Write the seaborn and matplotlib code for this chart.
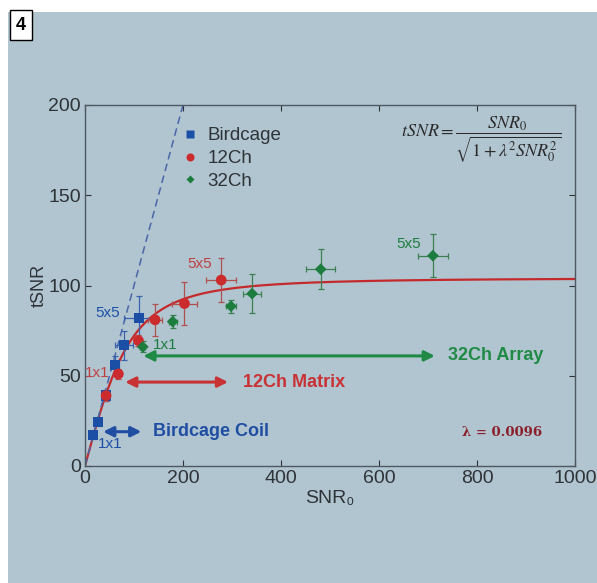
import numpy as np
import pandas as pd
import matplotlib
matplotlib.use('Agg')
import matplotlib.pyplot as plt
from matplotlib.patches import Rectangle
import seaborn as sns

# data
birdcage_snr0 = [17, 26, 43, 61, 80, 110]
birdcage_tsnr = [17, 24.5, 39, 56, 67, 82]
birdcage_xerr = [2, 3, 4, 8, 18, 30]
birdcage_yerr = [2, 2, 3, 5, 8, 12]

ch12_snr0 = [43, 68, 109, 143, 203, 278]
ch12_tsnr = [39, 51, 69.5, 81, 90, 103]
ch12_xerr = [4, 5, 7, 14, 26, 31]
ch12_yerr = [3, 3, 3, 9, 12, 12]

ch32_snr0 = [118, 179, 298, 341, 481, 710]
ch32_tsnr = [66, 80, 88.5, 95.5, 109, 116.5]
ch32_xerr = [5, 8, 10, 18, 30, 30]
ch32_yerr = [3, 3.5, 3.5, 11, 11, 12]

lam = 0.0096
x_ticks = [0, 200, 400, 600, 800, 1000]
y_ticks = [0, 50, 100, 150, 200]

df = pd.DataFrame({
    'SNR0': birdcage_snr0 + ch12_snr0 + ch32_snr0,
    'tSNR': birdcage_tsnr + ch12_tsnr + ch32_tsnr,
    'coil': ['Birdcage'] * 6 + ['12Ch'] * 6 + ['32Ch'] * 6,
})

blue = '#1b4fa6'
red = '#cc2b2e'
green = '#1d7d3e'
bg = '#b1c5d0'
ink = '#2e3338'

sns.set_style('ticks')
plt.rcParams['font.family'] = ['Liberation Sans', 'DejaVu Sans']
plt.rcParams['mathtext.fontset'] = 'stix'

fig = plt.figure(figsize=(5.97, 5.83), dpi=100)
fig.patch.set_facecolor('white')
fig.patches.append(Rectangle((8 / 597, 0), 1, (583 - 12) / 583, transform=fig.transFigure,
                             facecolor=bg, edgecolor='none', zorder=-10))

# panel number box
fig.text(21 / 597, 1 - 25 / 583, '4', ha='center', va='center', fontsize=13, fontweight='bold',
         color='black', bbox=dict(boxstyle='square,pad=0.35', facecolor='white', edgecolor='black', lw=1))

ax = fig.add_axes([85 / 597, (583 - 466) / 583, 490 / 597, 361 / 583])
ax.set_facecolor(bg)

# model curve and identity line
xs = np.linspace(0, 1000, 400)
ax.plot(xs, xs / np.sqrt(1 + lam ** 2 * xs ** 2), color='#c42a2c', lw=1.6, zorder=2)
ax.plot([0, 200], [0, 200], color='#4a66a8', lw=1.1, ls=(0, (5, 3)), zorder=2)

# error bars
for xv, yv, xe, ye, c in [(birdcage_snr0, birdcage_tsnr, birdcage_xerr, birdcage_yerr, '#3a62b0'),
                          (ch12_snr0, ch12_tsnr, ch12_xerr, ch12_yerr, '#b05050'),
                          (ch32_snr0, ch32_tsnr, ch32_xerr, ch32_yerr, '#3a8050')]:
    ax.errorbar(xv, yv, xerr=xe, yerr=ye, fmt='none', ecolor=c, elinewidth=0.9,
                capsize=2.5, capthick=0.9, zorder=3)

sns.scatterplot(data=df, x='SNR0', y='tSNR', hue='coil', style='coil', size='coil',
                palette={'Birdcage': blue, '12Ch': red, '32Ch': green},
                markers={'Birdcage': 's', '12Ch': 'o', '32Ch': 'D'},
                sizes={'Birdcage': 55, '12Ch': 60, '32Ch': 36},
                edgecolor='none', ax=ax, zorder=4)

ax.set_xlim(0, 1000)
ax.set_ylim(0, 200)
ax.set_xticks(x_ticks)
ax.set_yticks(y_ticks)
ax.tick_params(direction='in', length=4, width=0.8, top=True, right=True,
               labelsize=14, colors=ink, labelcolor=ink, pad=3)
for sp in ax.spines.values():
    sp.set_color('#4d5860')
    sp.set_linewidth(1.0)
ax.set_xlabel('SNR\u2080', fontsize=14, color=ink, labelpad=2)
ax.set_ylabel('tSNR', fontsize=13, color=ink, labelpad=0)

leg = ax.legend(loc='upper left', bbox_to_anchor=(0.156, 0.985), frameon=False, fontsize=13.5,
                handletextpad=0.35, handlelength=1.2, labelspacing=0.3, markerscale=0.75)
for t in leg.get_texts():
    t.set_color(ink)

# point labels
lab_kw = dict(fontsize=11, ha='center', va='center', zorder=5)
ax.text(51, 12, '1x1', color=blue, **lab_kw)
ax.text(46, 85, '5x5', color=blue, **lab_kw)
ax.text(25, 51.5, '1x1', color='#c04040', clip_on=False, **lab_kw)
ax.text(233, 112, '5x5', color='#c04040', **lab_kw)
ax.text(163, 67, '1x1', color=green, **lab_kw)
ax.text(660, 123, '5x5', color=green, **lab_kw)

# range arrows
arrow_specs = [(37, 115, 19, '#1f4ea3', 'Birdcage Coil', 139),
               (82, 292, 46.5, '#c83235', '12Ch Matrix', 323),
               (119, 714, 61, '#1f8a45', '32Ch Array', 740)]
for x0, x1, yv, c, label, tx in arrow_specs:
    ax.annotate('', xy=(x1, yv), xytext=(x0, yv),
                arrowprops=dict(arrowstyle='<|-|>', color=c, lw=2.2, mutation_scale=15,
                                shrinkA=0, shrinkB=0), zorder=5)
    ax.text(tx, yv, label, color=c, fontsize=13, fontweight='bold', ha='left', va='center')

ax.text(808, 181, r'$tSNR=\dfrac{SNR_0}{\sqrt{1+\lambda^2 SNR_0^2}}$', fontsize=13,
        color='#2a2a2a', ha='center', va='center')
ax.text(851, 18.3, '\u03bb = 0.0096', fontsize=9.5, fontweight='bold', color='#8a1f2a',
        family=['DejaVu Serif'], ha='center', va='center')

fig.savefig('out.png', dpi=100, facecolor=fig.get_facecolor())
